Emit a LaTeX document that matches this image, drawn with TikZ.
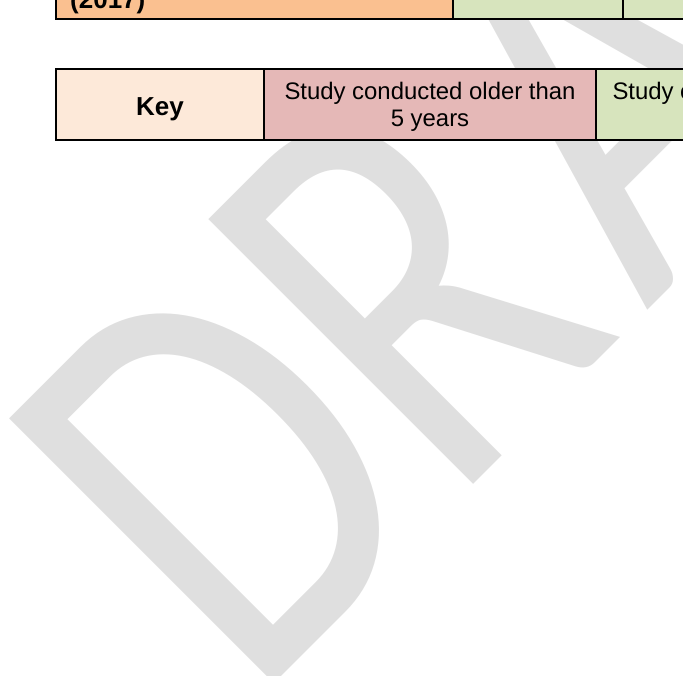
\documentclass[tikz,border=0pt]{standalone}
\usepackage{fontspec}
\setmainfont{Liberation Sans}
\newfontfamily\wmfont{Carlito}
\definecolor{orangecell}{HTML}{FAC090}
\definecolor{greencell}{HTML}{D7E4BD}
\definecolor{pinkcell}{HTML}{E5B8B7}
\definecolor{keycell}{HTML}{FDE9D9}
\definecolor{wmgray}{HTML}{DFDFDF}

\begin{document}
\begin{tikzpicture}[x=1pt,y=-1pt,
	cell/.style={draw=black,line width=1.7pt,inner sep=0pt,outer sep=0pt},
	txt/.style={inner sep=0pt,anchor=base,font=\fontsize{23.9}{27.4}\selectfont},
	btxt/.style={inner sep=0pt,anchor=base,font=\fontsize{26}{30}\selectfont\bfseries}]
			\useasboundingbox (0,0) rectangle (683,675);
			\clip (0,0) rectangle (683,675);
			\node[anchor=base west,inner sep=0pt,rotate=45,xscale=0.78,text=wmgray,font=\wmfont\fontsize{583.7}{600}\selectfont] (wm) at (252.5,705.5) {DR\kern38pt AFT};
			\node[cell,fill=orangecell,minimum width=397pt,minimum height=40pt] (yr) at (254.2,-0.7) {};
			\node[cell,fill=greencell,minimum width=170.6pt,minimum height=40pt] (yra) at (538,-0.7) {};
			\node[cell,fill=greencell,minimum width=90pt,minimum height=40pt] (yrb) at (668.3,-0.7) {};
			\node[btxt,anchor=base west] (yrlbl) at (70,8) {(2017)};
			\node[cell,fill=keycell,minimum width=208.3pt,minimum height=71.3pt] (key) at (159.85,104.65) {};
			\node[cell,fill=pinkcell,minimum width=332pt,minimum height=71.3pt] (old) at (430,104.65) {};
			\node[cell,fill=greencell,minimum width=120pt,minimum height=71.3pt] (new) at (656,104.65) {};
			\node[btxt] (keylbl) at (160,115) {Key};
			\node[txt] (oldlbla) at (430,99.3) {Study conducted older than};
			\node[txt] (oldlblb) at (430,126.7) {5 years};
			\node[txt,anchor=base west] (newlbl) at (612.3,99.3) {Study c};
			\end{tikzpicture}
\end{document}
